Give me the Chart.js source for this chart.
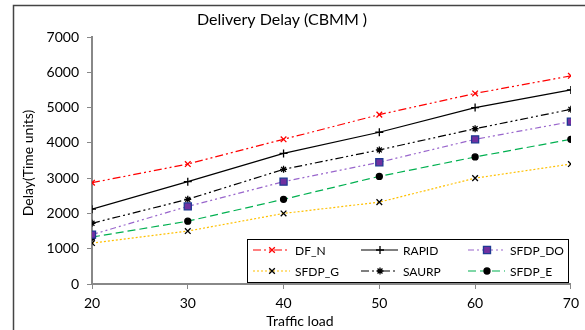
<!DOCTYPE html>
<html lang="en">
<head>
    <meta charset="UTF-8">
    <title>Delivery Delay (CBMM)</title>
    <script src="https://cdn.jsdelivr.net/npm/chart.js"></script>
    <style>
        body {
            margin: 0;
            background: #fff;
        }
        .chart-container {
            width: 585px;
            height: 330px;
            position: relative;
        }
    </style>
</head>
<body>
    <div class="chart-container">
        <canvas id="delayChart"></canvas>
    </div>
    <script>
        // Chart data
        const trafficLoad = [20, 30, 40, 50, 60, 70];
        const dfN = [2870, 3400, 4100, 4800, 5400, 5900];
        const rapid = [2120, 2900, 3700, 4300, 5000, 5500];
        const sfdpDO = [1400, 2200, 2900, 3450, 4100, 4600];
        const sfdpG = [1160, 1500, 2000, 2320, 3000, 3400];
        const saurp = [1720, 2400, 3250, 3800, 4400, 4950];
        const sfdpE = [1330, 1780, 2400, 3050, 3600, 4100];
        const yTicks = [0, 1000, 2000, 3000, 4000, 5000, 6000, 7000];

        const FONT = 'Lato, "Open Sans", sans-serif';

        function series(label, data, line, dash, style, radius, fill, border) {
            return {
                label: label,
                data: data.map((v, i) => ({ x: trafficLoad[i], y: v })),
                borderColor: line,
                borderWidth: 1.2,
                borderDash: dash,
                pointStyle: style,
                pointRadius: radius,
                pointBackgroundColor: fill,
                pointBorderColor: border,
                pointBorderWidth: 1.3,
                tension: 0
            };
        }

        const datasets = [
            series('DF_N', dfN, '#ff0000', [8, 3, 2, 3, 2, 3], 'crossRot', 4, '#ff0000', '#ff0000'),
            series('RAPID', rapid, '#000000', [], 'cross', 4, '#000', '#000'),
            series('SFDP_DO', sfdpDO, '#9966cc', [6, 3, 2, 3, 2, 3], 'rect', 5, '#7030a0', '#1f3a93'),
            series('SFDP_G', sfdpG, '#ffc000', [2, 2], 'crossRot', 4, '#000', '#000'),
            series('SAURP', saurp, '#000000', [8, 3, 2, 3, 2, 3], 'star', 3.5, '#000', '#000'),
            series('SFDP_E', sfdpE, '#00b050', [8, 4], 'circle', 3, '#000', '#000')
        ];

        // frame, titles and the boxed legend inside the plot
        const decorations = {
            id: 'decorations',
            beforeDraw(chart) {
                const ctx = chart.ctx;
                ctx.save();
                ctx.strokeStyle = '#444';
                ctx.lineWidth = 1.5;
                ctx.beginPath();
                ctx.moveTo(13.5, 330);
                ctx.lineTo(13.5, 5.5);
                ctx.lineTo(585, 5.5);
                ctx.stroke();
                ctx.restore();
            },
            afterDatasetsDraw(chart) {
                const ctx = chart.ctx;
                ctx.save();
                ctx.fillStyle = '#000';
                ctx.textAlign = 'center';
                ctx.textBaseline = 'middle';
                ctx.font = '16px ' + FONT;
                ctx.fillText('Delivery Delay (CBMM )', 282, 20);
                ctx.font = '14px ' + FONT;
                ctx.fillText('Traffic load', 300, 321);
                ctx.translate(28, 163);
                ctx.rotate(-Math.PI / 2);
                ctx.fillText('Delay(Time units)', 0, 0);
                ctx.restore();

                // legend
                ctx.save();
                ctx.fillStyle = '#fff';
                ctx.fillRect(247.5, 239.5, 321, 43);
                ctx.strokeStyle = '#000';
                ctx.lineWidth = 1;
                ctx.strokeRect(247.5, 239.5, 321, 43);
                const cols = [253, 361, 468];
                const rows = [250, 271];
                chart.data.datasets.forEach((ds, i) => {
                    const x0 = cols[i % 3];
                    const y = rows[Math.floor(i / 3)];
                    ctx.strokeStyle = ds.borderColor;
                    ctx.lineWidth = ds.borderWidth;
                    ctx.setLineDash(ds.borderDash);
                    ctx.beginPath();
                    ctx.moveTo(x0, y);
                    ctx.lineTo(x0 + 37, y);
                    ctx.stroke();
                    ctx.setLineDash([]);
                    ctx.fillStyle = ds.pointBackgroundColor;
                    ctx.strokeStyle = ds.pointBorderColor;
                    ctx.lineWidth = ds.pointBorderWidth;
                    Chart.helpers.drawPoint(ctx, {
                        pointStyle: ds.pointStyle,
                        radius: ds.pointRadius,
                        rotation: 0,
                        borderWidth: ds.pointBorderWidth
                    }, x0 + 19, y);
                    ctx.fillStyle = '#000';
                    ctx.font = '12px ' + FONT;
                    ctx.textAlign = 'left';
                    ctx.textBaseline = 'middle';
                    ctx.fillText(ds.label, x0 + 42, y + 1);
                });
                ctx.restore();
            }
        };

        const ctx = document.getElementById('delayChart').getContext('2d');
        const delayChart = new Chart(ctx, {
            type: 'line',
            data: { datasets: datasets },
            plugins: [decorations],
            options: {
                responsive: true,
                maintainAspectRatio: false,
                animation: false,
                layout: {
                    padding: { left: 0, top: 37, right: 14, bottom: 0 }
                },
                plugins: {
                    legend: { display: false },
                    tooltip: { enabled: false }
                },
                scales: {
                    x: {
                        type: 'linear',
                        min: 20,
                        max: 70,
                        afterBuildTicks: (scale) => {
                            scale.ticks = trafficLoad.map(v => ({ value: v }));
                        },
                        afterFit: (scale) => { scale.height = 46; },
                        grid: {
                            drawOnChartArea: false,
                            drawTicks: true,
                            tickLength: 5,
                            color: '#888'
                        },
                        border: { color: '#888', width: 2 },
                        ticks: {
                            color: '#000',
                            padding: 6,
                            font: { family: FONT, size: 14 },
                            callback: (v) => String(v)
                        }
                    },
                    y: {
                        min: 0,
                        max: 7000,
                        afterBuildTicks: (scale) => {
                            scale.ticks = yTicks.map(v => ({ value: v }));
                        },
                        afterFit: (scale) => { scale.width = 92; },
                        grid: {
                            drawOnChartArea: false,
                            drawTicks: true,
                            tickLength: 5,
                            color: '#888'
                        },
                        border: { color: '#888', width: 2 },
                        ticks: {
                            color: '#000',
                            padding: 8,
                            font: { family: FONT, size: 14 },
                            callback: (v) => String(v)
                        }
                    }
                }
            }
        });
    </script>
</body>
</html>
